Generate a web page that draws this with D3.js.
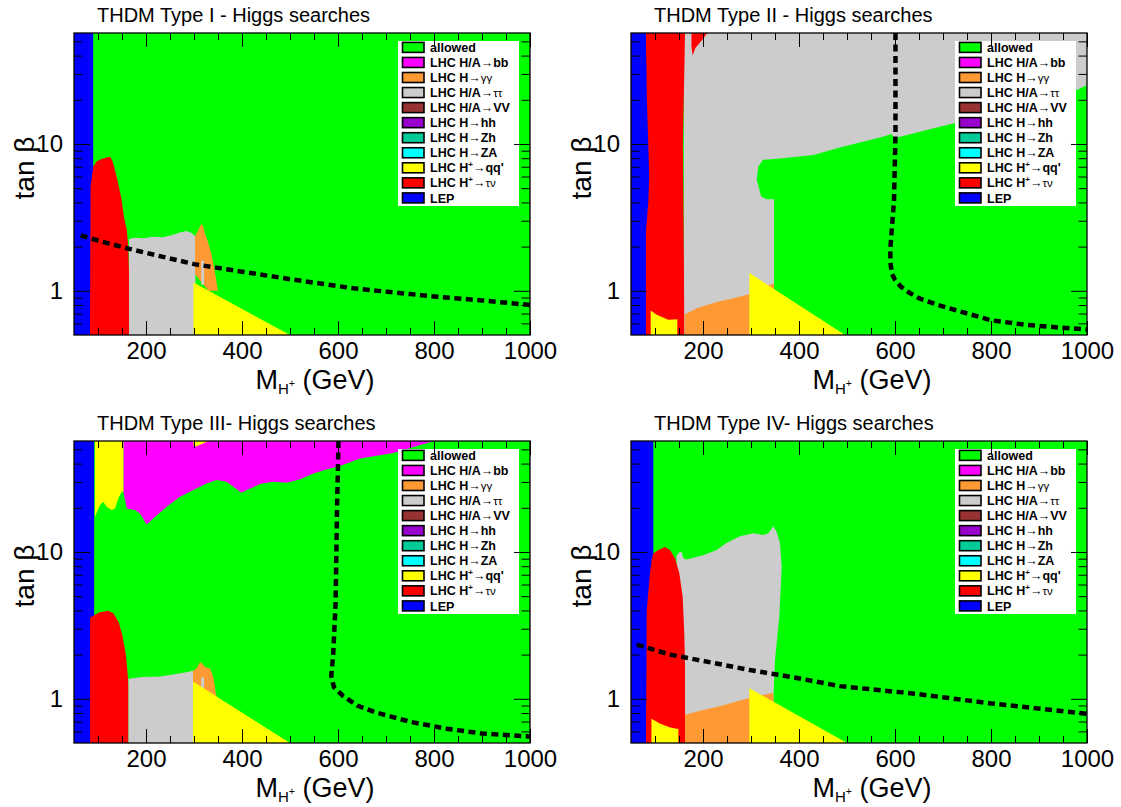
<!DOCTYPE html>
<html>
<head>
<meta charset="utf-8">
<script src="https://cdn.jsdelivr.net/npm/d3@7"></script>
<style>
    body { margin: 0; background: #fff; }
    text { font-family: "Liberation Sans", Arial, Helvetica, sans-serif; fill: #000; }
</style>
</head>
<body>
<svg id="chart"></svg>
<script>
// Axis ranges and ticks (M_H+ in GeV, tan beta)
const X_DOMAIN = [50, 1000];
const Y_DOMAIN = [0.5, 57];
const xMajorTicks = [200, 400, 600, 800, 1000];
const xMinorTicks = [100, 150, 250, 300, 350, 450, 500, 550, 650, 700, 750, 850, 900, 950];
const yMajorTicks = [1, 10];
const yMinorTicks = [0.6, 0.7, 0.8, 0.9, 2, 3, 4, 5, 6, 7, 8, 9, 20, 30, 40, 50];

// Legend
const legendLabels = ['allowed', 'LHC H/A→bb', 'LHC H→γγ', 'LHC H/A→ττ', 'LHC H/A→VV', 'LHC H→hh',
    'LHC H→Zh', 'LHC H→ZA', "LHC H⁺→qq'", 'LHC H⁺→τν', 'LEP'];
const legendKeys = ['allowed', 'bb', 'gg', 'tautau', 'vv', 'hh', 'zh', 'za', 'qq', 'taunu', 'lep'];
const legendColors = ['#00ff00', '#ff00ff', '#ff9933', '#cccccc', '#993333', '#9900cc',
    '#00cc99', '#00ffff', '#ffff00', '#ff0000', '#0000ff'];

const panelTitles = ['THDM Type I - Higgs searches', 'THDM Type II - Higgs searches',
    'THDM Type III- Higgs searches', 'THDM Type IV- Higgs searches'];

// Region outlines, [M_H+, tan beta]
const fullPlane = [[50, 0.5], [1000, 0.5], [1000, 57], [50, 57]];

// Type I
const lepI = [[50, 0.5], [90, 0.5], [90, 57], [50, 57]];
const tauNuI = [[83.3, 0.5], [84.5, 5.1], [90, 7.0], [97, 7.6], [107, 7.9], [118, 8.1], [125, 8.2], [130, 7.7],
    [135, 6.7], [142, 5.4], [149, 4.2], [154, 3.2], [160, 2.6], [163, 2.0], [164.6, 1.32], [164.6, 0.5]];
const tauTauI = [[164.6, 0.5], [164.6, 2.25], [175, 2.3], [195, 2.28], [215, 2.33], [235, 2.32], [255, 2.4],
    [270, 2.5], [285, 2.55], [295, 2.48], [303, 2.35], [303, 0.5]];
const gamGamI = [[302, 1.3], [302, 2.35], [309, 2.6], [315, 2.85], [319, 2.75], [323, 2.45], [329, 2.15],
    [335, 1.85], [340, 1.55], [345, 1.25], [350, 1.0], [330, 1.0]];
const tauTauStripI = [[315, 1.1], [315, 1.6], [321, 1.6], [321, 1.1]];
const qqI = [[299, 0.5], [299, 1.14], [500, 0.5]];
const limitI = [[64, 2.38], [100, 2.2], [160, 1.95], [220, 1.75], [300, 1.52], [400, 1.35], [500, 1.2],
    [632, 1.04], [750, 0.95], [800, 0.915], [900, 0.86], [1000, 0.8]];

// Type II
const tauTauII = [[160, 0.5], [160, 57], [1000, 57], [1000, 0.5]];
const allowedII = [[348, 0.5], [348, 4.2], [332, 4.2], [321, 4.4], [312, 5.7], [315, 7], [325, 7.8], [350, 7.9],
    [430, 8.4], [485, 9.45], [575, 11.2], [592, 11.7], [600, 11], [710, 13.5], [800, 15.8], [900, 19.6],
    [979, 23.3], [1000, 25.2], [1000, 0.5]];
const gamGamII = [[162, 0.5], [162, 0.69], [187, 0.76], [208, 0.8], [235, 0.85], [263, 0.89], [291, 0.94],
    [297, 0.95], [297, 0.5]];
const gamGamPatchII = [[322, 1.05], [348, 1.12], [348, 0.95]];
const qqII = [[296.6, 0.5], [296.6, 1.32], [496, 0.5]];
const qqLowII = [[91, 0.5], [91, 0.735], [103.5, 0.687], [127.7, 0.635], [146.5, 0.641], [146.5, 0.5]];
const tauNuII = [[70, 0.5], [70, 57], [162.5, 57], [161, 30], [158, 10], [159, 4.4], [160, 2], [161, 0.5]];
const tauNuSpikeII = [[176, 57], [209, 57], [196, 50], [184, 45], [178.5, 40], [176, 46]];
const lepII = [[50, 0.5], [50, 57], [81, 57], [83, 20], [86, 10], [88, 6], [86, 4], [81, 2.5], [81, 0.5]];
const limitII = [[601, 57], [601, 11.8], [598, 4.15], [590, 1.9], [591, 1.5], [594, 1.3], [600, 1.19],
    [612, 1.07], [630, 0.97], [650, 0.89], [690, 0.8], [725, 0.74], [800, 0.63], [875, 0.585],
    [950, 0.56], [1000, 0.545]];

// Type III
const lepIII = [[50, 0.5], [50, 57], [92, 57], [92, 0.5]];
const bbIII = [[152.8, 57], [800, 57], [715, 47.2], [646, 43.3], [604, 38.5], [576, 36.5], [548.5, 34.3],
    [521, 31.3], [493, 29.6], [465, 30.1], [437.5, 29.0], [410, 26.4], [399, 25.3], [382, 27.8], [368, 30.1],
    [347, 30.9], [326, 29.3], [298.6, 26.4], [271, 23.8], [243, 20.3], [215, 16.9], [201.4, 15.4],
    [187.5, 18.3], [177, 19.3], [160, 19.8], [152.8, 25.7]];
const qqTopIII = [[93.75, 57], [152.8, 57], [152.8, 25.7], [149.3, 25.7], [142.3, 23.2], [135.4, 19.8],
    [128.5, 19.3], [118, 20.3], [111, 22.0], [104.2, 20.9], [93.75, 17.4]];
const qqSpikeIII = [[298, 57], [300, 52], [308, 53], [320, 55], [330, 57]];
const tauNuIII = [[83.6, 0.5], [83.6, 3.58], [102, 3.87], [121, 3.98], [132, 3.83], [143.4, 3.31],
    [150.8, 2.69], [158.3, 1.97], [162, 1.44], [163.5, 1.2], [163.5, 0.5]];
const tauTauIII = [[163.5, 0.5], [163.5, 1.37], [192, 1.41], [229, 1.42], [266, 1.48], [289, 1.53],
    [298, 1.55], [298, 0.5]];
const gamGamIII = [[298, 1.2], [298, 1.55], [305, 1.6], [312, 1.77], [316, 1.75], [322, 1.65], [334, 1.6],
    [341, 1.37], [345, 1.11], [349, 0.97], [320, 1.0]];
const tauTauStripIII = [[315, 1.05], [315, 1.4], [321, 1.4], [321, 1.05]];
const qqIII = [[298, 0.5], [298, 1.31], [500, 0.5]];
const limitIII = [[601, 57], [598, 20], [595, 4.5], [590, 2], [586, 1.44], [591.5, 1.2], [610, 1.05],
    [640, 0.9], [677, 0.81], [752, 0.695], [827, 0.625], [901, 0.58], [991, 0.555], [1000, 0.553]];

// Type IV
const lepIV = [[50, 0.5], [50, 57], [96.5, 57], [96.5, 0.5]];
const tauTauIV = [[145, 0.5], [145, 9.4], [150, 9.9], [155.6, 10.05], [159, 9.06], [166, 8.9], [200.6, 9.5],
    [228.5, 10.3], [249, 11.5], [277, 12.8], [305, 13.4], [325.6, 13.05], [336, 13.4], [346.5, 15.0],
    [353.5, 13.7], [360.4, 11.5], [364, 7.9], [359, 3.63], [350, 1.84], [347, 1.1], [347, 0.5]];
const tauNuIV = [[81.25, 0.5], [82.7, 4.0], [89.6, 7.17], [93, 8.8], [96.5, 9.8], [106.9, 10.3],
    [120.8, 10.8], [131.3, 10.3], [141.7, 9.06], [150.7, 7.17], [157.6, 4.97], [161, 2.8], [162.5, 1.66],
    [162.5, 0.5]];
const gamGamIV = [[162.5, 0.5], [162.5, 0.78], [200.6, 0.84], [235, 0.89], [270, 0.96], [294, 1.01],
    [300, 1.02], [346, 1.1], [347, 0.95], [300, 0.5]];
const qqIV = [[296.5, 0.5], [296.5, 1.18], [500, 0.5]];
const qqLowIV = [[92.6, 0.5], [92.6, 0.73], [111, 0.676], [130, 0.64], [145, 0.625], [148.7, 0.625],
    [148.7, 0.5]];
const limitIV = [[62, 2.34], [131, 2.0], [200.6, 1.81], [298, 1.57], [388, 1.4], [485, 1.22], [645, 1.08],
    [800, 0.93], [1000, 0.79]];

const COLOR = {};
legendKeys.forEach((k, i) => COLOR[k] = legendColors[i]);

const panels = [
    {title: panelTitles[0], left: 74, top: 33, limit: limitI, regions: [
        [fullPlane, 'allowed'], [lepI, 'lep'], [tauNuI, 'taunu'], [tauTauI, 'tautau'], [gamGamI, 'gg'],
        [tauTauStripI, 'tautau'], [qqI, 'qq']]},
    {title: panelTitles[1], left: 631, top: 33, limit: limitII, regions: [
        [fullPlane, 'allowed'], [tauTauII, 'tautau'], [allowedII, 'allowed'], [gamGamII, 'gg'],
        [gamGamPatchII, 'gg'], [qqII, 'qq'], [tauNuII, 'taunu'], [tauNuSpikeII, 'taunu'], [qqLowII, 'qq'],
        [lepII, 'lep']]},
    {title: panelTitles[2], left: 74, top: 441, limit: limitIII, regions: [
        [fullPlane, 'allowed'], [lepIII, 'lep'], [bbIII, 'bb'], [qqTopIII, 'qq'], [qqSpikeIII, 'qq'],
        [tauNuIII, 'taunu'], [tauTauIII, 'tautau'], [gamGamIII, 'gg'], [tauTauStripIII, 'tautau'],
        [qqIII, 'qq']]},
    {title: panelTitles[3], left: 631, top: 441, limit: limitIV, regions: [
        [fullPlane, 'allowed'], [lepIV, 'lep'], [tauTauIV, 'tautau'], [gamGamIV, 'gg'], [qqIV, 'qq'],
        [tauNuIV, 'taunu'], [qqLowIV, 'qq']]}
];

const PLOT_W = 456;
const PLOT_H = 302;

const svg = d3.select('#chart')
    .attr('width', 1121)
    .attr('height', 807);

svg.append('rect').attr('width', 1121).attr('height', 807).attr('fill', '#fff');

panels.forEach((p, i) => drawPanel(p, i));

function drawPanel(panel, idx) {
    const x = d3.scaleLinear().domain(X_DOMAIN).range([panel.left, panel.left + PLOT_W]);
    const y = d3.scaleLog().domain(Y_DOMAIN).range([panel.top + PLOT_H, panel.top]);
    const line = d3.line().x(d => x(d[0])).y(d => y(d[1]));

    svg.append('clipPath')
        .attr('id', `clip${idx}`)
        .append('rect')
        .attr('x', panel.left).attr('y', panel.top)
        .attr('width', PLOT_W).attr('height', PLOT_H);

    const plot = svg.append('g').attr('clip-path', `url(#clip${idx})`);

    plot.selectAll('.region')
        .data(panel.regions)
        .enter()
        .append('path')
        .attr('class', 'region')
        .attr('d', d => line(d[0]) + 'Z')
        .attr('fill', d => COLOR[d[1]]);

    plot.append('path')
        .datum(panel.limit)
        .attr('d', line)
        .attr('fill', 'none')
        .attr('stroke', '#000')
        .attr('stroke-width', 4.5)
        .attr('stroke-dasharray', '7,4.5');

    drawLegend(panel);
    drawAxes(panel, x, y);

    // title
    svg.append('text')
        .attr('x', panel.left + 23)
        .attr('y', panel.top - 11)
        .attr('font-size', 20)
        .text(panel.title);

    // x title: M_{H+} (GeV)
    const xt = svg.append('text')
        .attr('x', panel.left + PLOT_W / 2 + 13)
        .attr('y', panel.top + PLOT_H + 54)
        .attr('text-anchor', 'middle')
        .attr('font-size', 27);
    xt.append('tspan').text('M');
    xt.append('tspan').attr('font-size', 15).attr('dy', 5).text('H');
    xt.append('tspan').attr('font-size', 10.5).attr('dy', -7).text('+');
    xt.append('tspan').attr('dy', 2).text(' (GeV)');

    // y title
    svg.append('text')
        .attr('transform', `translate(${panel.left - 40}, ${panel.top + 135}) rotate(-90)`)
        .attr('text-anchor', 'middle')
        .attr('font-size', 28)
        .text('tan β');
}

function drawAxes(panel, x, y) {
    const bottom = panel.top + PLOT_H;
    const right = panel.left + PLOT_W;
    const g = svg.append('g').attr('class', 'axes');

    const specs = [
        [d3.axisBottom(x).tickValues(xMajorTicks).tickSize(-14).tickPadding(7).tickFormat(d3.format('d')), `translate(0,${bottom})`, true],
        [d3.axisBottom(x).tickValues(xMinorTicks).tickSize(-7).tickFormat(''), `translate(0,${bottom})`, false],
        [d3.axisTop(x).tickValues(xMajorTicks).tickSize(-14).tickFormat(''), `translate(0,${panel.top})`, false],
        [d3.axisTop(x).tickValues(xMinorTicks).tickSize(-7).tickFormat(''), `translate(0,${panel.top})`, false],
        [d3.axisLeft(y).tickValues(yMajorTicks).tickSize(-16).tickPadding(11).tickFormat(d3.format('d')), `translate(${panel.left},0)`, true],
        [d3.axisLeft(y).tickValues(yMinorTicks).tickSize(-8.5).tickFormat(''), `translate(${panel.left},0)`, false],
        [d3.axisRight(y).tickValues(yMajorTicks).tickSize(-16).tickFormat(''), `translate(${right},0)`, false],
        [d3.axisRight(y).tickValues(yMinorTicks).tickSize(-8.5).tickFormat(''), `translate(${right},0)`, false]
    ];

    specs.forEach(([axis, transform, labelled]) => {
        const a = g.append('g').attr('transform', transform).call(axis);
        a.select('.domain').remove();
        a.selectAll('line').attr('stroke', '#000').attr('stroke-width', 1);
        if (labelled) {
            a.selectAll('text')
                .attr('font-size', 24)
                .attr('fill', '#000')
                .style('font-family', '"Liberation Sans", Arial, sans-serif');
        }
    });

    g.append('rect')
        .attr('x', panel.left).attr('y', panel.top)
        .attr('width', PLOT_W).attr('height', PLOT_H)
        .attr('fill', 'none')
        .attr('stroke', '#000')
        .attr('stroke-width', 1.3);
}

function drawLegend(panel) {
    const lg = svg.append('g')
        .attr('transform', `translate(${panel.left + 324}, ${panel.top + 8})`);

    lg.append('rect')
        .attr('width', 121)
        .attr('height', 165)
        .attr('fill', '#fff');

    const rows = lg.selectAll('.row')
        .data(legendLabels)
        .enter()
        .append('g')
        .attr('class', 'row')
        .attr('transform', (d, i) => `translate(0, ${6.4 + i * 15.05})`);

    rows.append('rect')
        .attr('x', 4.5).attr('y', -5)
        .attr('width', 21.5).attr('height', 10)
        .attr('fill', (d, i) => legendColors[i])
        .attr('stroke', '#000')
        .attr('stroke-width', 1.6);

    rows.append('text')
        .attr('x', 32)
        .attr('y', 4.6)
        .attr('font-size', 12.5)
        .attr('font-weight', 'bold')
        .each(function(d) { richLabel(d3.select(this), d); });
}

// bold label with thin greek letters, arrows and a raised plus
function richLabel(sel, label) {
    const parts = label.match(/[γτν]+|⁺|→|[^γτν⁺→]+/g);
    let raised = false;
    parts.forEach(part => {
        const ts = sel.append('tspan');
        if (part === '⁺') {
            ts.text('+').attr('font-size', 8).attr('dy', -5);
            raised = true;
            return;
        }
        ts.text(part);
        if (raised) {
            ts.attr('dy', 5);
            raised = false;
        }
        if (part === '→' || /[γτν]/.test(part)) ts.attr('font-weight', 'normal');
        if (/[γτν]/.test(part)) ts.attr('font-size', 11.5);
    });
}
</script>
</body>
</html>
